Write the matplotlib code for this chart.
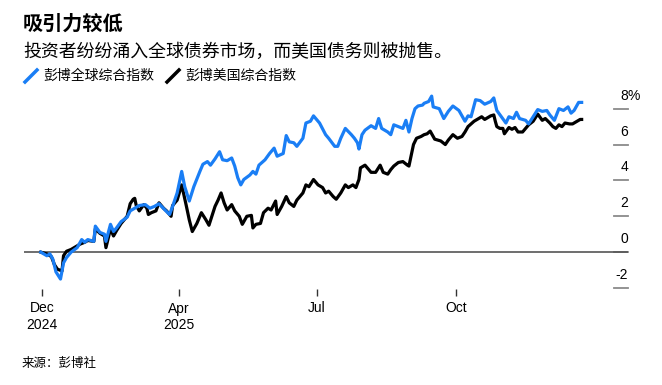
import matplotlib
matplotlib.use("Agg")
import matplotlib.pyplot as plt
from matplotlib.lines import Line2D
import pandas as pd

# year-to-date return, % ; x = days since 2024-12-31
global_days = [0, 4, 6, 8, 10, 13, 15, 17, 20, 24, 27, 29, 31, 35, 36, 39, 42, 43, 46, 48,
               50, 53, 57, 59, 62, 65, 69, 72, 75, 78, 82, 85, 87, 90, 93, 95, 98, 101, 105, 107,
               110, 112, 115, 118, 120, 123, 126, 128, 130, 132, 134, 138, 140, 142, 144, 148, 151, 154, 156, 160,
               162, 164, 167, 169, 173, 175, 178, 180, 184, 188, 190, 194, 196, 198, 201, 205, 207, 209, 210, 212,
               214, 218, 221, 223, 225, 229, 231, 233, 236, 239, 241, 243, 245, 247, 249, 252, 253, 256, 258, 259,
               263, 266, 269, 272, 276, 280, 282, 284, 287, 290, 293, 297, 299, 301, 304, 307, 309, 312, 314, 316,
               320, 322, 325, 328, 331, 334, 336, 339, 342, 345, 348, 350, 352, 355, 357]
global_vals = [0, -0.2, -0.1, -0.4, -1.1, -1.5, -0.6, -0.3, 0, 0.25, 0.7, 0.55, 0.7, 0.6, 1.45, 1.1, 1.0, 0.6, 1.55, 1.15,
               1.35, 1.7, 1.95, 2.3, 2.45, 2.6, 2.65, 2.45, 2.55, 2.7, 2.35, 2.1, 2.55, 3.3, 4.5, 3.65, 2.85, 3.65, 4.5, 4.9,
               5.05, 4.85, 5.2, 5.6, 5.15, 5.1, 5.25, 4.8, 4.15, 3.75, 4.05, 4.3, 4.5, 4.35, 4.85, 5.15, 5.5, 5.8, 5.35, 5.5,
               6.5, 6.15, 6.1, 5.9, 6.35, 7.2, 7.3, 7.6, 7.2, 6.55, 6.35, 5.9, 5.9, 6.35, 6.9, 6.55, 6.35, 6.1, 5.75, 6.55,
               6.8, 7.05, 6.9, 7.45, 6.9, 6.7, 6.55, 7.1, 7.0, 6.9, 7.35, 6.7, 7.45, 8.0, 8.15, 8.2, 8.3, 8.4, 8.7, 8.1,
               8.0, 7.45, 7.85, 8.15, 7.9, 7.3, 7.6, 7.55, 8.5, 8.45, 8.25, 8.4, 8.6, 7.9, 7.55, 7.2, 7.55, 7.45, 7.8, 7.45,
               7.35, 7.15, 7.55, 7.95, 7.85, 7.9, 7.65, 7.35, 8.0, 7.9, 8.1, 7.75, 7.9, 8.35, 8.35]

us_days = [0, 4, 7, 9, 11, 14, 15, 17, 20, 24, 26, 29, 31, 35, 36, 39, 42, 43, 46, 48,
           50, 53, 57, 59, 61, 62, 63, 65, 68, 70, 71, 73, 76, 78, 81, 83, 86, 87, 90, 93,
           96, 98, 100, 103, 106, 109, 111, 115, 117, 119, 121, 123, 126, 128, 131, 133, 136, 139, 140, 142,
           145, 147, 150, 152, 155, 156, 159, 162, 164, 167, 169, 173, 175, 177, 180, 183, 186, 188, 190, 193,
           195, 198, 201, 203, 206, 208, 210, 211, 214, 218, 221, 224, 226, 229, 231, 233, 236, 239, 242, 243,
           246, 248, 251, 253, 255, 257, 260, 264, 267, 269, 272, 275, 278, 280, 282, 286, 289, 291, 293, 297,
           299, 300, 301, 303, 305, 306, 309, 311, 313, 315, 318, 320, 322, 325, 328, 331, 333, 336, 338, 340,
           342, 344, 346, 349, 351, 354, 356, 357]
us_vals = [0, -0.1, -0.25, -0.7, -0.95, -1.05, -0.2, 0.05, 0.15, 0.35, 0.45, 0.55, 0.65, 0.6, 1.3, 1.05, 0.9, 0.25, 1.3, 0.9,
           1.2, 1.6, 2.0, 2.7, 2.95, 3.0, 2.6, 2.3, 2.65, 2.45, 2.1, 2.2, 2.3, 2.75, 2.45, 2.3, 2.0, 2.6, 2.9, 3.75,
           2.6, 1.8, 1.15, 1.6, 2.2, 1.8, 1.5, 2.55, 2.9, 3.3, 2.75, 2.35, 2.65, 2.3, 2.0, 1.55, 2.0, 2.05, 1.35, 1.55,
           1.6, 2.2, 2.45, 2.35, 2.85, 2.1, 2.55, 3.1, 2.75, 2.55, 2.9, 3.3, 3.75, 3.65, 4.05, 3.75, 3.6, 3.3, 3.4, 3.1,
           2.95, 3.3, 3.75, 3.6, 3.75, 3.6, 4.05, 4.7, 4.85, 4.45, 4.45, 4.85, 4.45, 4.35, 4.6, 4.8, 5.0, 5.05, 4.85, 4.8,
           6.0, 6.35, 6.45, 6.55, 6.6, 6.75, 6.3, 6.2, 6.0, 6.25, 6.55, 6.35, 6.45, 6.7, 7.0, 7.3, 7.45, 7.55, 7.4, 7.6,
           7.65, 7.3, 7.0, 6.9, 6.9, 6.6, 6.95, 6.85, 6.95, 6.7, 6.7, 6.9, 7.1, 7.3, 7.7, 7.35, 7.45, 7.2, 7.0, 6.9,
           7.1, 7.0, 7.2, 7.15, 7.15, 7.3, 7.4, 7.4]

tick_dates = ["2025-01-01", "2025-04-01", "2025-07-01", "2025-10-01"]
tick_labels = ["Dec\n2024", "Apr\n2025", "Jul", "Oct"]
y_ticks = [8, 6, 4, 2, 0, -2]

title = "吸引力较低"
subtitle = "投资者纷纷涌入全球债券市场，而美国债务则被抛售。"
legend_names = ["彭博全球综合指数", "彭博美国综合指数"]
source = "来源：彭博社"

BLUE = "#1a7ef5"
CJK = ["Noto Sans CJK SC", "DejaVu Sans"]
plt.rcParams["font.family"] = ["Liberation Sans", "Noto Sans CJK SC", "DejaVu Sans"]

base = pd.Timestamp("2024-12-31")
g_x = base + pd.to_timedelta(global_days, unit="D")
u_x = base + pd.to_timedelta(us_days, unit="D")

W, H = 662, 385
fig = plt.figure(figsize=(W / 100, H / 100), dpi=100)
ax = fig.add_axes([24 / W, 1 - 289 / H, 604 / W, 197 / H])

ax.plot(u_x, us_vals, color="black", lw=2.3, solid_joinstyle="round", zorder=3)
ax.plot(g_x, global_vals, color=BLUE, lw=2.3, solid_joinstyle="round", zorder=4)
ax.axhline(0, color="#555555", lw=1.2, zorder=2)

px_per_day = 1.515
ax.set_xlim(base - pd.Timedelta(days=16.8 / px_per_day), base + pd.Timedelta(days=587.2 / px_per_day))
ax.set_ylim(-2 - 1 / 18, 8.93)

for s in ax.spines.values():
    s.set_visible(False)

ax.set_xticks(pd.to_datetime(tick_dates))
ax.set_xticklabels(tick_labels, fontsize=10, linespacing=1.25)
ax.tick_params(axis="x", length=5, width=1, color="#333333", pad=4)

# y ticks: short grey marks at right edge, labels sit above the marks
ax.set_yticks([])
for v in y_ticks:
    ax.plot([0.976, 1.0], [v, v], transform=ax.get_yaxis_transform(), color="#8a8a8a",
            lw=1.3, clip_on=False, zorder=1)
    ax.text(1.0, v + 0.72, str(v), transform=ax.get_yaxis_transform(), ha="right", va="center",
            fontsize=10, color="black")
ax.text(1.0, y_ticks[0] + 0.72, "%", transform=ax.get_yaxis_transform(), ha="left", va="center",
        fontsize=10, color="black")

fig.text(23 / W, 1 - 23 / H, title, family=CJK, fontsize=14.5, fontweight="bold", va="center")
fig.text(23 / W, 1 - 52 / H, subtitle, family=CJK, fontsize=12.9, va="center")

# legend
fig.add_artist(Line2D([25 / W, 37 / W], [1 - 82 / H, 1 - 70 / H], color=BLUE, lw=2.5))
fig.text(43 / W, 1 - 76 / H, legend_names[0], family=CJK, fontsize=10, va="center")
fig.add_artist(Line2D([167 / W, 179 / W], [1 - 82 / H, 1 - 70 / H], color="black", lw=2.5))
fig.text(185 / W, 1 - 76 / H, legend_names[1], family=CJK, fontsize=10, va="center")

fig.text(22 / W, 1 - 363 / H, source, family=CJK, fontsize=9, va="center")

fig.savefig("out.png", dpi=100)
